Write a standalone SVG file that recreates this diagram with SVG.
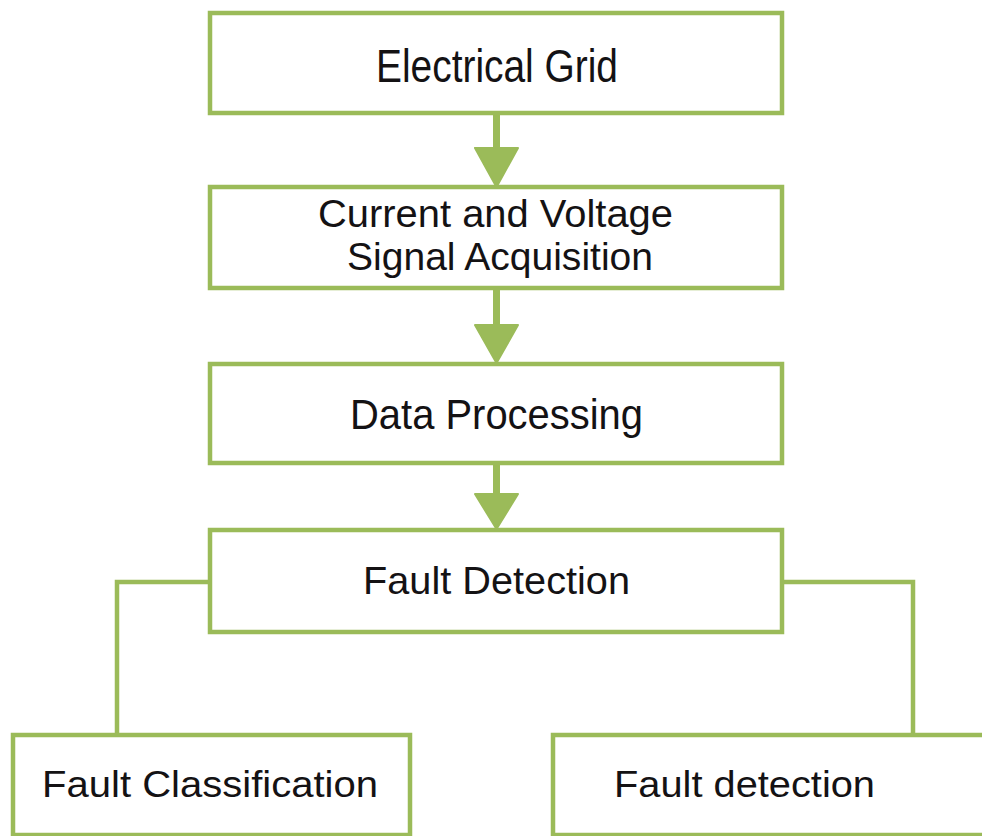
<svg xmlns="http://www.w3.org/2000/svg" width="982" height="836" viewBox="0 0 982 836">
<style>
.box{fill:#ffffff;stroke:#9bbb59;stroke-width:4.5}
.conn{fill:none;stroke:#9bbb59;stroke-width:4.5}
.stem{fill:none;stroke:#9bbb59;stroke-width:7}
.head{fill:#9bbb59;stroke:#9bbb59;stroke-width:2;stroke-linejoin:round}
.lbl{font-family:"Liberation Sans",Arial,sans-serif;fill:#141214;text-anchor:middle}
</style>
<rect width="982" height="836" fill="#ffffff"/>
<g id="connectors">
<path class="conn" d="M210,582 H117 V735"/>
<path class="conn" d="M782,582 H913 V735"/>
<path class="stem" d="M496.5,113 V150"/>
<polygon class="head" points="475,148 518,148 496.5,187"/>
<path class="stem" d="M496.5,288 V327"/>
<polygon class="head" points="475,325 518,325 496.5,363"/>
<path class="stem" d="M496.5,463 V497"/>
<polygon class="head" points="475,494 518,494 496.5,529"/>
</g>
<g id="electrical-grid">
<rect class="box" x="210" y="13" width="572" height="100"/>
<text class="lbl" x="497" y="82" font-size="47" textLength="242" lengthAdjust="spacingAndGlyphs">Electrical Grid</text>
</g>
<g id="signal-acquisition">
<rect class="box" x="210" y="187" width="572" height="101"/>
<text class="lbl" x="495.5" y="227" font-size="38" textLength="355" lengthAdjust="spacingAndGlyphs">Current and Voltage</text>
<text class="lbl" x="500" y="270" font-size="38" textLength="306" lengthAdjust="spacingAndGlyphs">Signal Acquisition</text>
</g>
<g id="data-processing">
<rect class="box" x="210" y="364" width="572" height="99"/>
<text class="lbl" x="496.5" y="429" font-size="43" textLength="293" lengthAdjust="spacingAndGlyphs">Data Processing</text>
</g>
<g id="fault-detection-main">
<rect class="box" x="210" y="530" width="572" height="102"/>
<text class="lbl" x="496.5" y="594" font-size="39" textLength="267" lengthAdjust="spacingAndGlyphs">Fault Detection</text>
</g>
<g id="fault-classification">
<rect class="box" x="13" y="735" width="397" height="100"/>
<text class="lbl" x="210" y="797" font-size="37" textLength="336" lengthAdjust="spacingAndGlyphs">Fault Classification</text>
</g>
<g id="fault-detection-sub">
<rect class="box" x="553" y="735" width="440" height="100"/>
<text class="lbl" x="744.5" y="797" font-size="37" textLength="261" lengthAdjust="spacingAndGlyphs">Fault detection</text>
</g>
</svg>
